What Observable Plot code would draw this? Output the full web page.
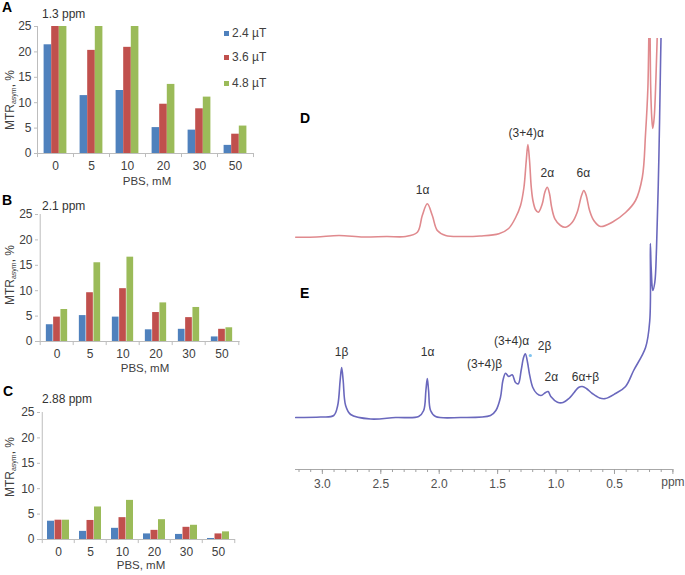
<!DOCTYPE html>
<html><head><meta charset="utf-8">
<script src="https://cdn.jsdelivr.net/npm/d3@7"></script>
<script src="https://cdn.jsdelivr.net/npm/@observablehq/plot@0.6"></script>
<style>
body{margin:0;background:#fff;font-family:"Liberation Sans",Arial,sans-serif;}
#fig{position:relative;width:685px;height:575px;overflow:hidden;background:#fff;}
#fig svg{position:absolute;background:transparent;}
.t{position:absolute;white-space:nowrap;line-height:1;color:#333;font-size:12px;}
.letter{font-weight:bold;font-size:14px;color:#000;}
.ylab sub{font-size:7px;vertical-align:-2px;}
.sw{position:absolute;width:5px;height:5px;}
</style></head><body><div id="fig"></div>
<script>
// ---------- data ----------
const pbs = ["0", "5", "10", "20", "30", "50"];
const fields = ["2.4 µT", "3.6 µT", "4.8 µT"];
const colors = ["#4F81BD", "#C0504D", "#9BBB59"];
const yTicks = [0, 5, 10, 15, 20, 25];

// Panel A (1.3 ppm)
const a24 = [21.4, 11.4, 12.4, 5.1, 4.6, 1.6];
const a36 = [25, 20.3, 20.9, 9.7, 8.8, 3.8];
const a48 = [25, 25, 25, 13.6, 11.1, 5.4];
// Panel B (2.1 ppm)
const b24 = [3.3, 5.1, 4.8, 2.3, 2.4, 0.9];
const b36 = [4.8, 9.6, 10.4, 5.7, 4.7, 2.4];
const b48 = [6.3, 15.5, 16.6, 7.6, 6.7, 2.7];
// Panel C (2.88 ppm)
const c24 = [3.6, 1.6, 2.2, 1.1, 1.0, 0.2];
const c36 = [3.8, 3.75, 4.3, 1.8, 2.4, 1.1];
const c48 = [3.8, 6.4, 7.7, 3.9, 2.8, 1.5];

// Spectra: [ppm, intensity (arbitrary units)]
const specD = [[3.228,180.3],[3.05,180.5],[2.858,182],[2.65,180.5],[2.45,181],[2.287,181],[2.187,185.3],[2.145,202],[2.102,213.7],[2.059,202],[2.016,187],[1.945,182],[1.80,181],[1.65,181.5],[1.489,183.7],[1.406,189],[1.346,200],[1.304,212],[1.275,230],[1.255,257],[1.241,273],[1.227,257],[1.212,230],[1.198,217],[1.175,207.7],[1.152,205.3],[1.118,213.7],[1.096,225.3],[1.075,230.3],[1.056,223.7],[1.038,210.3],[1.010,198.7],[0.962,192],[0.919,190.3],[0.861,195.3],[0.819,205.3],[0.782,222],[0.762,227],[0.742,222],[0.713,207],[0.677,197],[0.619,191],[0.519,195.3],[0.405,205],[0.320,217],[0.262,240],[0.234,284],[0.214,330],[0.200,420],[0.190,330],[0.181,300],[0.172,289],[0.160,300],[0.145,340],[0.125,420]];
const specE = [[3.228,0],[3.015,0.5],[2.903,2],[2.869,12],[2.848,37],[2.835,50],[2.822,37],[2.801,12],[2.758,3],[2.587,-1.5],[2.373,0],[2.176,1],[2.133,7],[2.114,27],[2.102,39],[2.091,27],[2.074,7],[2.031,1],[1.818,0],[1.561,2],[1.515,7],[1.476,20],[1.455,37],[1.432,44.3],[1.405,41],[1.375,42.7],[1.347,35],[1.323,33.7],[1.299,47],[1.278,60],[1.263,63.7],[1.244,55],[1.228,43.7],[1.200,30.3],[1.165,24],[1.129,22],[1.090,25],[1.068,26],[1.045,21],[0.988,15.3],[0.940,15],[0.890,19],[0.845,25],[0.808,30],[0.776,31],[0.740,29],[0.690,24],[0.627,19.5],[0.577,19],[0.491,24],[0.405,31],[0.336,47],[0.234,70],[0.198,97],[0.193,174],[0.186,150],[0.172,127],[0.155,135],[0.140,170],[0.120,260],[0.105,360],[0.095,420]];
const starE = [[1.22, 62]];

const labelsD = [
  {ppm: 2.142, v: 227, text: "1α"},
  {ppm: 1.255, v: 284, text: "(3+4)α"},
  {ppm: 1.075, v: 244, text: "2α"},
  {ppm: 0.767, v: 244, text: "6α"}
];
const labelsE = [
  {ppm: 2.835, v: 65, text: "1β"},
  {ppm: 2.099, v: 65, text: "1α"},
  {ppm: 1.612, v: 53, text: "(3+4)β"},
  {ppm: 1.381, v: 76.3, text: "(3+4)α"},
  {ppm: 1.098, v: 71, text: "2β"},
  {ppm: 1.041, v: 40, text: "2α"},
  {ppm: 0.748, v: 40.3, text: "6α+β"}
];
const majorTicks = [3.0, 2.5, 2.0, 1.5, 1.0, 0.5];
const minorTicks = [3.2,3.1,3.0,2.9,2.8,2.7,2.6,2.5,2.4,2.3,2.2,2.1,2.0,1.9,1.8,1.7,1.6,1.5,1.4,1.3,1.2,1.1,1.0,0.9,0.8,0.7,0.6,0.5,0.4,0.3,0.2,0.1,0.0];
const ppmDomain = [3.23, 0];
const intDomain = [-52, 379];

// ---------- helpers ----------
const fig = document.getElementById("fig");
const axisGray = "#bdbdbd", textGray = "#404040";
function place(node, left, top) {
  node.style.left = left + "px"; node.style.top = top + "px";
  fig.appendChild(node);
}
function txt(html, x, y, cls, anchor) {
  const d = document.createElement("div");
  d.className = "t " + (cls || "");
  d.innerHTML = html;
  d.style.left = x + "px"; d.style.top = y + "px";
  d.style.transform = anchor === "center" ? "translate(-50%,-50%)" : "translate(0,-50%)";
  fig.appendChild(d);
  return d;
}
function ylab(x, y) {
  const d = txt("MTR<sub>asym</sub>, %", x, y, "ylab", "center");
  d.style.transform = "translate(-50%,-50%) rotate(-90deg)";
  d.style.color = textGray;
}

function barPanel(vals, opt) {
  const rows = [];
  fields.forEach((f, j) => pbs.forEach((p, i) => rows.push({pbs: p, field: f, value: vals[j][i]})));
  const W = 280, H = 190, mt = 26, mb = 37;
  const step = opt.step, ml = opt.ml, barW = opt.barW;
  const mr = W - ml - step * pbs.length;
  const outer = (step - 3 * barW) / 2;
  const tickLen = 0.8;
  const svg = Plot.plot({
    width: W, height: H, marginLeft: ml, marginRight: mr, marginTop: mt, marginBottom: mb,
    x: {domain: pbs, padding: 0},
    y: {domain: [0, 25]},
    style: {fontFamily: "Liberation Sans, Arial, sans-serif", fontSize: "12px", background: "transparent"},
    marks: [
      Plot.ruleY([0], {stroke: axisGray}),
      Plot.ruleX([pbs[0]], {dx: -step / 2, y1: 0, y2: 25, stroke: axisGray}),
      Plot.ruleX(pbs, {dx: -step / 2, y1: 0, y2: -tickLen, stroke: axisGray}),
      Plot.ruleX([pbs[pbs.length - 1]], {dx: step / 2, y1: 0, y2: -tickLen, stroke: axisGray}),
      ...fields.map((f, j) => Plot.barY(rows.filter(d => d.field === f), {
        x: "pbs", y: "value", fill: colors[j],
        insetLeft: outer + j * barW, insetRight: outer + (2 - j) * barW
      })),
      Plot.axisY({ticks: yTicks, tickSize: 3, tickPadding: 3, stroke: axisGray, fill: textGray, label: null, fontSize: 12}),
      Plot.axisX({tickSize: 0, tickPadding: 7.5, fill: textGray, label: null, fontSize: 12})
    ]
  });
  place(svg, 0, opt.top);
}

// ---------- bar panels ----------
barPanel([a24, a36, a48], {top: 0, ml: 37, step: 36, barW: 7.6});
barPanel([b24, b36, b48], {top: 188, ml: 38, step: 33.6, barW: 7.3});
barPanel([c24, c36, c48], {top: 386, ml: 40, step: 32.5, barW: 7.5});

txt("A", 2, 7, "letter");
txt("B", 2, 200, "letter");
txt("C", 3, 391, "letter");
txt("1.3 ppm", 42, 14);
txt("2.1 ppm", 42, 206);
txt("2.88 ppm", 42, 399);
[[147, 182], [145, 369], [141, 566]].forEach(([x, y]) => {
  const d = txt("PBS, mM", x, y, "", "center");
  d.style.color = textGray; d.style.fontSize = "11.5px";
});
ylab(10, 100); ylab(10, 275); ylab(10, 467);

// legend
[33, 57, 83].forEach((y, j) => {
  const s = document.createElement("div");
  s.className = "sw"; s.style.background = colors[j];
  place(s, 224, y - 2.5);
  const d = txt(fields[j], 232, y); d.style.color = textGray;
});

// ---------- spectra ----------
const specSvg = Plot.plot({
  width: 400, height: 500, marginLeft: 10, marginRight: 12.6, marginTop: 38, marginBottom: 31,
  x: {domain: ppmDomain},
  y: {domain: intDomain, axis: null},
  style: {fontFamily: "Liberation Sans, Arial, sans-serif", fontSize: "12px", background: "transparent"},
  marks: [
    Plot.ruleY([intDomain[0]], {stroke: "#a8a8a8"}),
    Plot.axisX({ticks: minorTicks, tickSize: 3, stroke: "#a0a0a0", tickFormat: () => "", label: null}),
    Plot.axisX({ticks: [...majorTicks, 0], tickSize: 5, tickPadding: 5, stroke: "#a0a0a0", fill: "#505050",
      tickFormat: d => d === 0 ? "" : d.toFixed(1), label: null, fontSize: 12}),
    Plot.text(["ppm"], {frameAnchor: "bottom-right", dy: 16, textAnchor: "middle", fill: "#505050", fontSize: 12}),
    Plot.line(specD, {x: d => d[0], y: d => d[1], stroke: "#e08a8e", strokeWidth: 1.6, curve: "catmull-rom", clip: true}),
    Plot.line(specE, {x: d => d[0], y: d => d[1], stroke: "#6a68bd", strokeWidth: 1.6, curve: "catmull-rom", clip: true}),
    Plot.dot(starE, {x: d => d[0], y: d => d[1], r: 1.6, fill: "#7ec3ef", stroke: null}),
    Plot.text(labelsD, {x: "ppm", y: "v", text: "text", fill: "#333", fontSize: 12}),
    Plot.text(labelsE, {x: "ppm", y: "v", text: "text", fill: "#333", fontSize: 12})
  ]
});
place(specSvg, 285, 0);
txt("D", 300, 118, "letter");
txt("E", 300, 293, "letter");
</script></body></html>
